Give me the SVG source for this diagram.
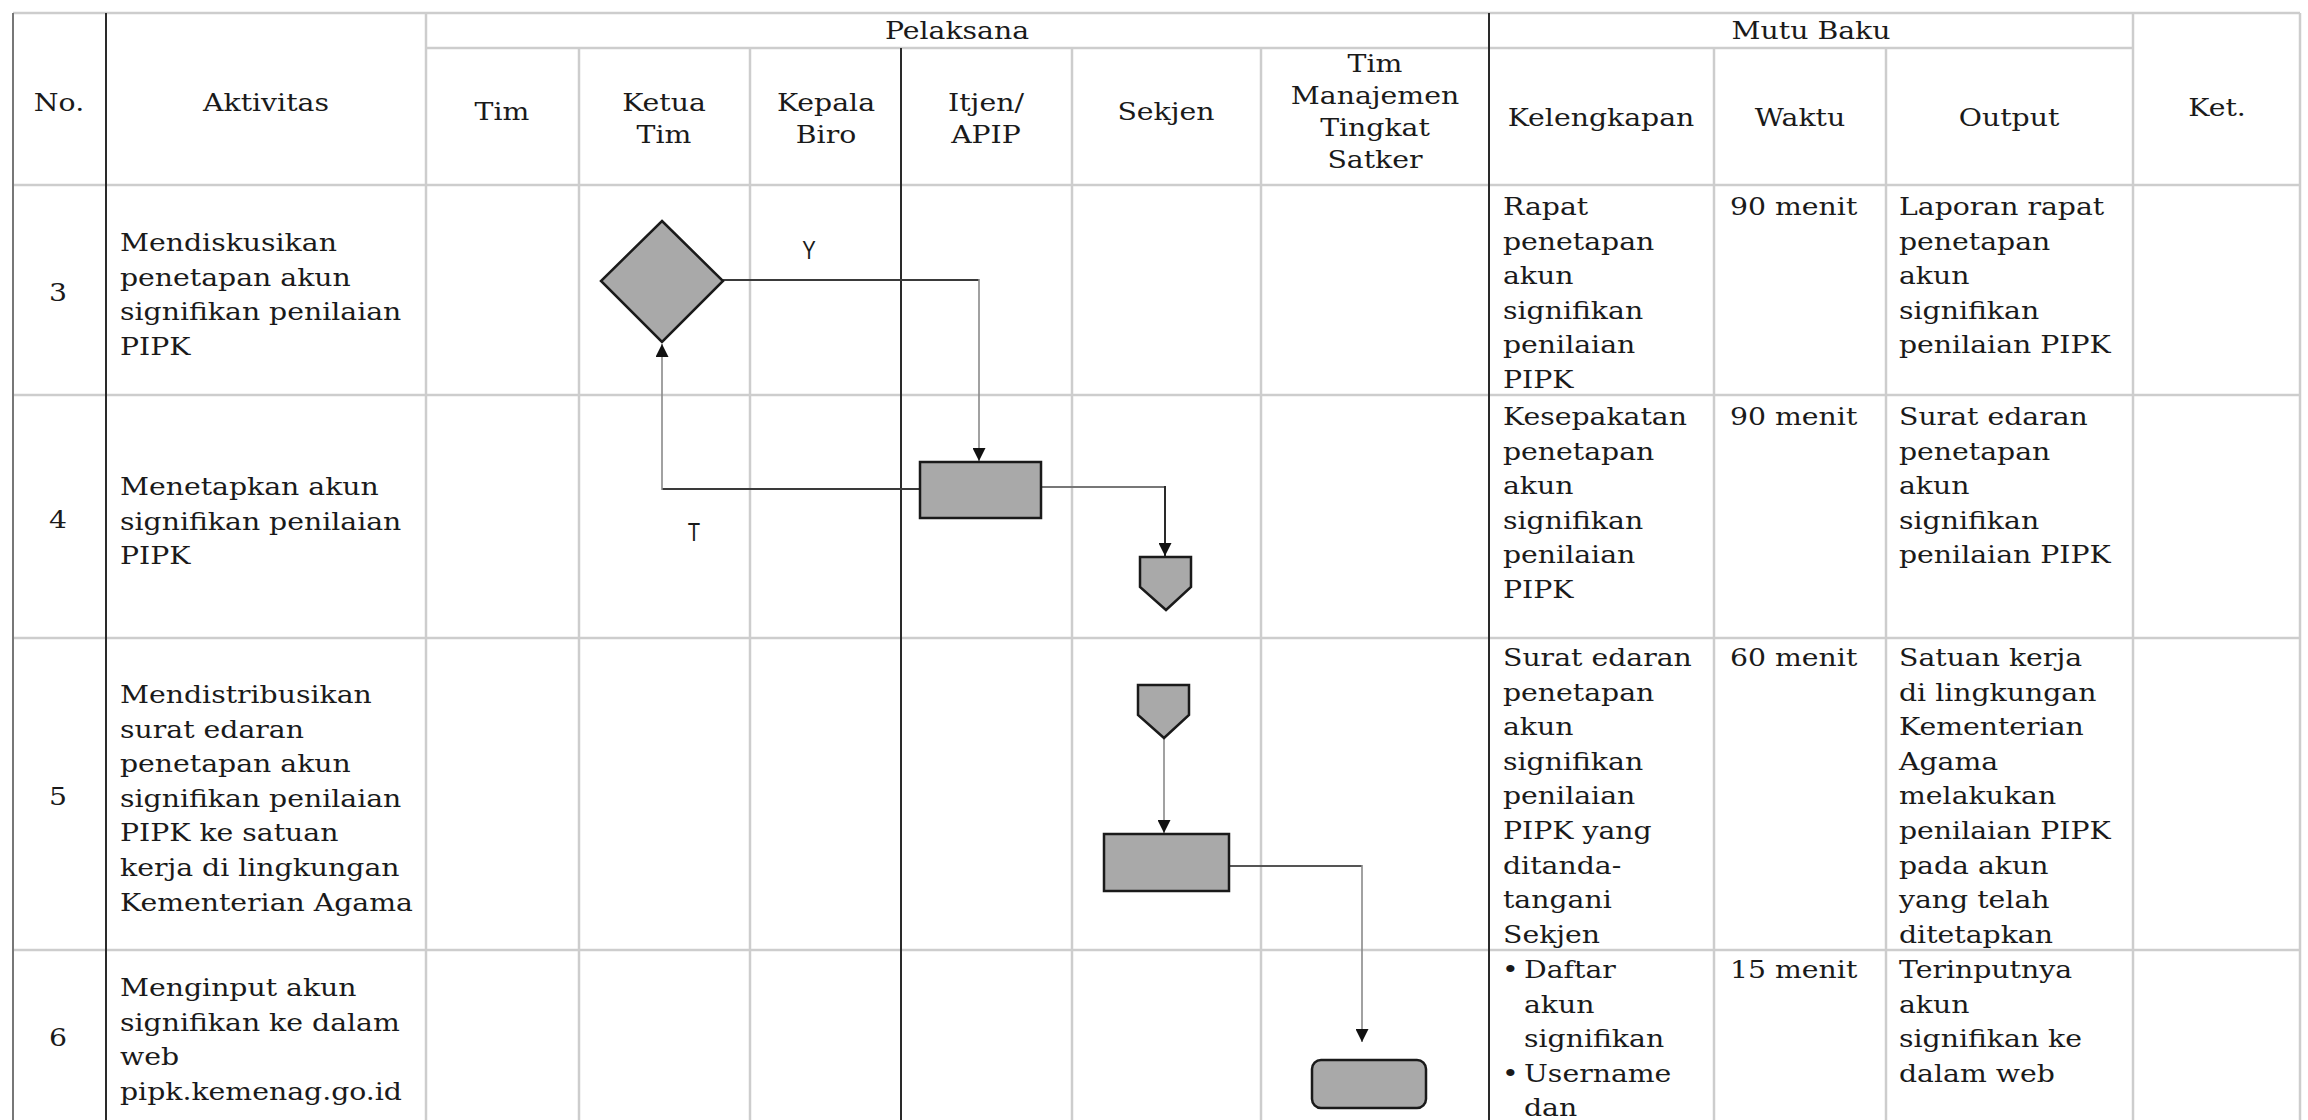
<svg xmlns="http://www.w3.org/2000/svg" width="2308" height="1120" viewBox="0 0 2308 1120">
<defs>
<marker id="ah" viewBox="0 0 10 10" refX="10" refY="5" markerWidth="15" markerHeight="13" markerUnits="userSpaceOnUse" orient="auto">
<path d="M0,0 L10,5 L0,10 z" fill="#111"/>
</marker>
<style>
.grid{stroke:#cdcdcd;stroke-width:2.5;fill:none}
.dark{stroke:#2a2a2a;stroke-width:2;fill:none}
.t{font-family:"DejaVu Serif",serif;font-size:24px;fill:#1a1a1a}
.m{text-anchor:middle}
.lbl{font-family:"Liberation Sans",Arial,sans-serif;font-size:26px;fill:#1a1a1a;text-anchor:middle}
.shape{fill:#a9a9a9;stroke:#1a1a1a;stroke-width:2.5}
.hseg{fill:none;stroke:#3a3a3a;stroke-width:2.2}
.vseg{fill:none;stroke:#8a8a8a;stroke-width:1.6;marker-end:url(#ah)}
.vdark{fill:none;stroke:#2a2a2a;stroke-width:2;marker-end:url(#ah)}
</style>
</defs>
<rect width="2308" height="1120" fill="#ffffff"/>

<g id="grid">
<line class="grid" x1="13" y1="13" x2="2300" y2="13"/>
<line class="grid" x1="426" y1="48" x2="2133" y2="48"/>
<line class="grid" x1="13" y1="185" x2="2300" y2="185"/>
<line class="grid" x1="13" y1="395" x2="2300" y2="395"/>
<line class="grid" x1="13" y1="638" x2="2300" y2="638"/>
<line class="grid" x1="13" y1="950" x2="2300" y2="950"/>
<line class="grid" x1="426" y1="13" x2="426" y2="1120"/>
<line class="grid" x1="579" y1="48" x2="579" y2="1120"/>
<line class="grid" x1="750" y1="48" x2="750" y2="1120"/>
<line class="grid" x1="1072" y1="48" x2="1072" y2="1120"/>
<line class="grid" x1="1261" y1="48" x2="1261" y2="1120"/>
<line class="grid" x1="1714" y1="48" x2="1714" y2="1120"/>
<line class="grid" x1="1886" y1="48" x2="1886" y2="1120"/>
<line class="grid" x1="2133" y1="13" x2="2133" y2="1120"/>
<line class="grid" x1="2300" y1="13" x2="2300" y2="1120"/>
<line class="dark" x1="13" y1="13" x2="13" y2="1120" style="stroke:#777"/>
<line class="dark" x1="106" y1="13" x2="106" y2="1120"/>
<line class="dark" x1="901" y1="48" x2="901" y2="1120"/>
<line class="dark" x1="1489" y1="13" x2="1489" y2="1120"/>
</g>

<g id="header">
<text class="t m" transform="translate(957,39) scale(1.18,1)">Pelaksana</text>
<text class="t m" transform="translate(1811,39) scale(1.18,1)">Mutu Baku</text>
<text class="t m" transform="translate(59,111) scale(1.18,1)">No.</text>
<text class="t m" transform="translate(266,111) scale(1.18,1)">Aktivitas</text>
<text class="t m" transform="translate(502,120) scale(1.18,1)">Tim</text>
<text class="t m" transform="translate(664,111) scale(1.18,1)"><tspan x="0">Ketua</tspan><tspan x="0" dy="32">Tim</tspan></text>
<text class="t m" transform="translate(826,111) scale(1.18,1)"><tspan x="0">Kepala</tspan><tspan x="0" dy="32">Biro</tspan></text>
<text class="t m" transform="translate(986,111) scale(1.18,1)"><tspan x="0">Itjen/</tspan><tspan x="0" dy="32">APIP</tspan></text>
<text class="t m" transform="translate(1166,120) scale(1.18,1)">Sekjen</text>
<text class="t m" transform="translate(1375,72) scale(1.18,1)"><tspan x="0">Tim</tspan><tspan x="0" dy="32">Manajemen</tspan><tspan x="0" dy="32">Tingkat</tspan><tspan x="0" dy="32">Satker</tspan></text>
<text class="t m" transform="translate(1601,126) scale(1.18,1)">Kelengkapan</text>
<text class="t m" transform="translate(1800,126) scale(1.18,1)">Waktu</text>
<text class="t m" transform="translate(2009,126) scale(1.18,1)">Output</text>
<text class="t m" transform="translate(2217,116) scale(1.18,1)">Ket.</text>
</g>

<g id="row3">
<text class="t m" transform="translate(58,301) scale(1.18,1)">3</text>
<text class="t" transform="translate(120,251) scale(1.18,1)"><tspan x="0">Mendiskusikan</tspan><tspan x="0" dy="34.6">penetapan akun</tspan><tspan x="0" dy="34.6">signifikan penilaian</tspan><tspan x="0" dy="34.6">PIPK</tspan></text>
<text class="t" transform="translate(1503,215) scale(1.18,1)"><tspan x="0">Rapat</tspan><tspan x="0" dy="34.6">penetapan</tspan><tspan x="0" dy="34.6">akun</tspan><tspan x="0" dy="34.6">signifikan</tspan><tspan x="0" dy="34.6">penilaian</tspan><tspan x="0" dy="34.6">PIPK</tspan></text>
<text class="t" transform="translate(1730,215) scale(1.18,1)">90 menit</text>
<text class="t" transform="translate(1899,215) scale(1.18,1)"><tspan x="0">Laporan rapat</tspan><tspan x="0" dy="34.6">penetapan</tspan><tspan x="0" dy="34.6">akun</tspan><tspan x="0" dy="34.6">signifikan</tspan><tspan x="0" dy="34.6">penilaian PIPK</tspan></text>
</g>

<g id="row4">
<text class="t m" transform="translate(58,528) scale(1.18,1)">4</text>
<text class="t" transform="translate(120,495) scale(1.18,1)"><tspan x="0">Menetapkan akun</tspan><tspan x="0" dy="34.6">signifikan penilaian</tspan><tspan x="0" dy="34.6">PIPK</tspan></text>
<text class="t" transform="translate(1503,425) scale(1.18,1)"><tspan x="0">Kesepakatan</tspan><tspan x="0" dy="34.6">penetapan</tspan><tspan x="0" dy="34.6">akun</tspan><tspan x="0" dy="34.6">signifikan</tspan><tspan x="0" dy="34.6">penilaian</tspan><tspan x="0" dy="34.6">PIPK</tspan></text>
<text class="t" transform="translate(1730,425) scale(1.18,1)">90 menit</text>
<text class="t" transform="translate(1899,425) scale(1.18,1)"><tspan x="0">Surat edaran</tspan><tspan x="0" dy="34.6">penetapan</tspan><tspan x="0" dy="34.6">akun</tspan><tspan x="0" dy="34.6">signifikan</tspan><tspan x="0" dy="34.6">penilaian PIPK</tspan></text>
</g>

<g id="row5">
<text class="t m" transform="translate(58,805) scale(1.18,1)">5</text>
<text class="t" transform="translate(120,703) scale(1.18,1)"><tspan x="0">Mendistribusikan</tspan><tspan x="0" dy="34.6">surat edaran</tspan><tspan x="0" dy="34.6">penetapan akun</tspan><tspan x="0" dy="34.6">signifikan penilaian</tspan><tspan x="0" dy="34.6">PIPK ke satuan</tspan><tspan x="0" dy="34.6">kerja di lingkungan</tspan><tspan x="0" dy="34.6">Kementerian Agama</tspan></text>
<text class="t" transform="translate(1503,666) scale(1.18,1)"><tspan x="0">Surat edaran</tspan><tspan x="0" dy="34.6">penetapan</tspan><tspan x="0" dy="34.6">akun</tspan><tspan x="0" dy="34.6">signifikan</tspan><tspan x="0" dy="34.6">penilaian</tspan><tspan x="0" dy="34.6">PIPK yang</tspan><tspan x="0" dy="34.6">ditanda-</tspan><tspan x="0" dy="34.6">tangani</tspan><tspan x="0" dy="34.6">Sekjen</tspan></text>
<text class="t" transform="translate(1730,666) scale(1.18,1)">60 menit</text>
<text class="t" transform="translate(1899,666) scale(1.18,1)"><tspan x="0">Satuan kerja</tspan><tspan x="0" dy="34.6">di lingkungan</tspan><tspan x="0" dy="34.6">Kementerian</tspan><tspan x="0" dy="34.6">Agama</tspan><tspan x="0" dy="34.6">melakukan</tspan><tspan x="0" dy="34.6">penilaian PIPK</tspan><tspan x="0" dy="34.6">pada akun</tspan><tspan x="0" dy="34.6">yang telah</tspan><tspan x="0" dy="34.6">ditetapkan</tspan></text>
</g>

<g id="row6">
<text class="t m" transform="translate(58,1046) scale(1.18,1)">6</text>
<text class="t" transform="translate(120,996) scale(1.18,1)"><tspan x="0">Menginput akun</tspan><tspan x="0" dy="34.6">signifikan ke dalam</tspan><tspan x="0" dy="34.6">web</tspan><tspan x="0" dy="34.6">pipk.kemenag.go.id</tspan></text>
<text class="t" transform="translate(1502,978) scale(1.18,1)"><tspan x="0">•</tspan><tspan x="0" dy="103.8">•</tspan></text>
<text class="t" transform="translate(1524,978) scale(1.18,1)"><tspan x="0">Daftar</tspan><tspan x="0" dy="34.6">akun</tspan><tspan x="0" dy="34.6">signifikan</tspan><tspan x="0" dy="34.6">Username</tspan><tspan x="0" dy="34.6">dan</tspan></text>
<text class="t" transform="translate(1730,978) scale(1.18,1)">15 menit</text>
<text class="t" transform="translate(1899,978) scale(1.18,1)"><tspan x="0">Terinputnya</tspan><tspan x="0" dy="34.6">akun</tspan><tspan x="0" dy="34.6">signifikan ke</tspan><tspan x="0" dy="34.6">dalam web</tspan></text>
</g>

<g id="connectors">
<path class="hseg" d="M722,280 H979"/>
<path class="vseg" d="M979,279 V461"/>
<path class="hseg" d="M920,489 H662"/>
<path class="vseg" d="M662,490 V344"/>
<path class="hseg" d="M1041,487 H1165" style="stroke:#777"/>
<path class="vdark" d="M1165,486 V556"/>
<path class="vseg" d="M1164,738 V833"/>
<path class="hseg" d="M1229,866 H1362" style="stroke:#555"/>
<path class="vseg" d="M1362,865 V1042"/>
<text class="lbl" transform="translate(809,259) scale(0.78,1)">Y</text>
<text class="lbl" transform="translate(694,541) scale(0.78,1)">T</text>
</g>

<g id="decision">
<polygon class="shape" points="662,221 723,281 662,342 601,281"/>
</g>
<g id="process-itjen">
<rect class="shape" x="920" y="462" width="121" height="56"/>
</g>
<g id="offpage-1">
<polygon class="shape" points="1140,557 1191,557 1191,587 1166,610 1140,587"/>
</g>
<g id="offpage-2">
<polygon class="shape" points="1138,685 1189,685 1189,715 1164,738 1138,715"/>
</g>
<g id="process-sekjen">
<rect class="shape" x="1104" y="834" width="125" height="57"/>
</g>
<g id="process-satker">
<rect class="shape" x="1312" y="1060" width="114" height="48" rx="9" ry="9"/>
</g>
</svg>
